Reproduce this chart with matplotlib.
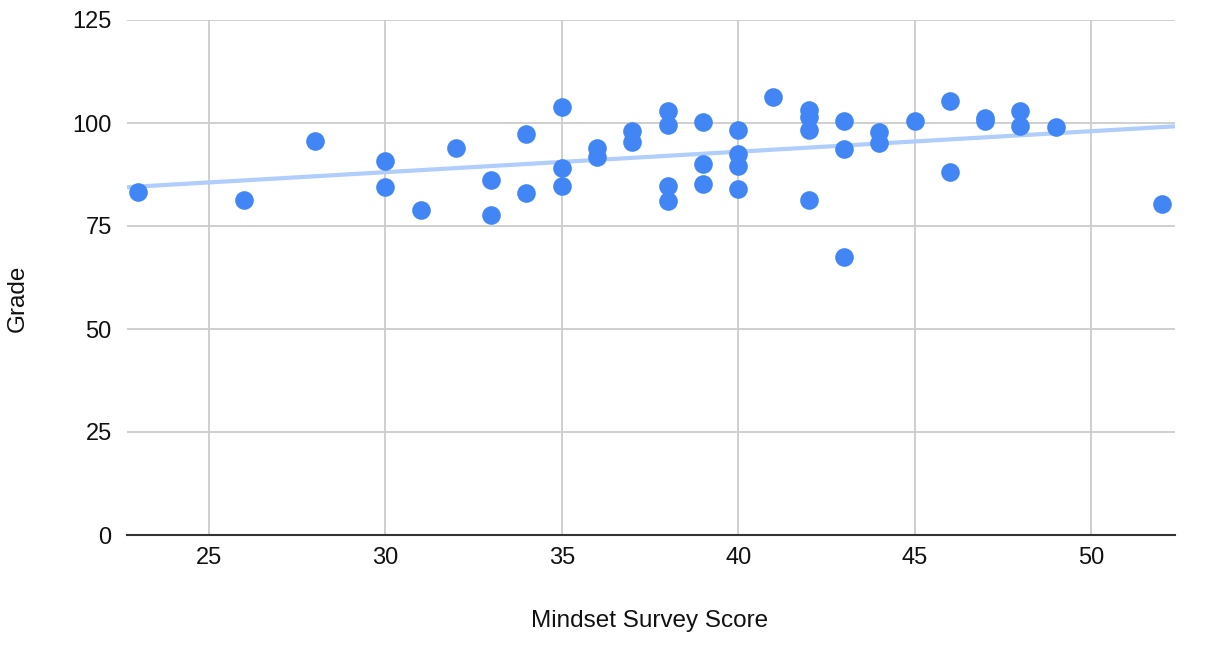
import numpy as np
import matplotlib.pyplot as plt

# Mindset survey score vs grade
score = [23, 26, 28, 30, 30, 31, 32, 33, 33, 34, 34, 35, 35, 35,
         36, 36, 37, 37, 38, 38, 38, 38, 39, 39, 39,
         40, 40, 40, 40, 41, 42, 42, 42, 42, 43, 43, 43,
         44, 44, 45, 46, 46, 47, 47, 48, 48, 49, 52]
grade = [83.3, 81.2, 95.7, 90.7, 84.5, 79.0, 93.9, 86.2, 77.7, 97.4, 82.9, 104.0, 89.0, 84.8,
         93.9, 91.8, 98.0, 95.3, 102.8, 99.4, 84.8, 81.1, 100.2, 90.0, 85.3,
         98.2, 92.5, 89.6, 84.0, 106.3, 103.2, 101.5, 98.3, 81.4, 100.6, 93.6, 67.5,
         97.7, 95.1, 100.4, 105.4, 88.1, 101.2, 100.5, 103.0, 99.3, 99.1, 80.4]

x_ticks = [25, 30, 35, 40, 45, 50]
y_ticks = [0, 25, 50, 75, 100, 125]

plt.rcParams['font.family'] = ['Liberation Sans', 'DejaVu Sans']

W, H = 1213, 671
fig = plt.figure(figsize=(W/100, H/100), dpi=100)
ax = fig.add_axes([127/W, 1 - 535/H, (1175-127)/W, (535-20)/H])

xmin, xmax = 22.68, 52.38
ax.set_xlim(xmin, xmax)
ax.set_ylim(0, 125)

# trendline (least squares)
m, b = np.polyfit(score, grade, 1)
xs = np.array([xmin, xmax])
ax.plot(xs, m*xs + b, color='#b0cdfb', linewidth=3, zorder=2, solid_capstyle='butt')

ax.scatter(score, grade, s=180, color='#4285f4', zorder=3, linewidths=0)

ax.set_xticks(x_ticks)
ax.set_yticks(y_ticks)
ax.grid(True, color='#cccccc', linewidth=1.3)
ax.set_axisbelow(True)
for s in ['top', 'right', 'left']:
    ax.spines[s].set_visible(False)
ax.spines['bottom'].set_color('#333333')
ax.spines['bottom'].set_linewidth(1.5)
ax.spines['bottom'].set_zorder(4)
ax.tick_params(length=0, labelsize=17, colors='#111111')
ax.tick_params(axis='x', pad=9)
ax.tick_params(axis='y', pad=11)

fig.text(650/W, 1 - 621/H, 'Mindset Survey Score', fontsize=17.5, color='#111111',
         ha='center', va='center')
fig.text(18/W, 1 - 298/H, 'Grade', fontsize=17.5, color='#111111',
         ha='center', va='center', rotation=90)

fig.savefig('out.png', dpi=100)
